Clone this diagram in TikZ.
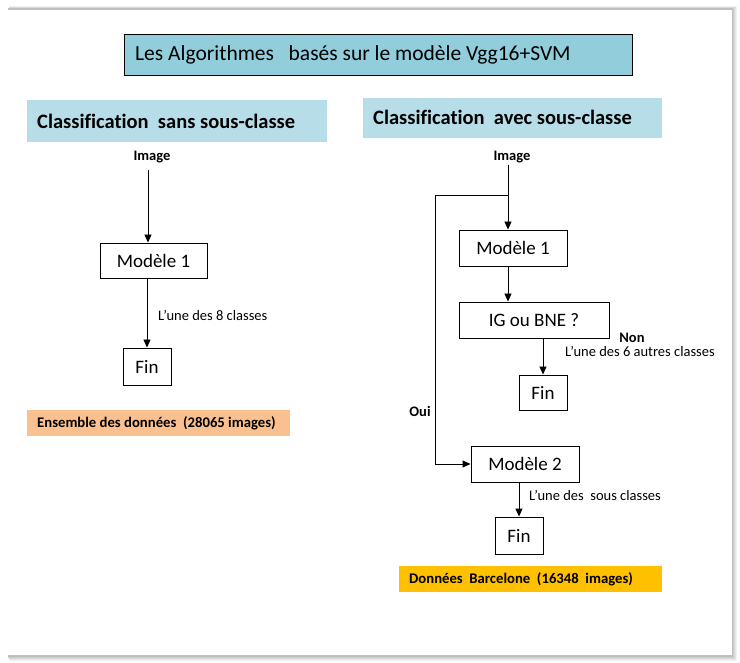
\documentclass[tikz,border=0pt]{standalone}
\usepackage{fontspec}
\setmainfont[Ligatures=NoCommon]{Carlito}
\usetikzlibrary{arrows.meta}
\definecolor{titlefill}{HTML}{92CDDC}
\definecolor{headfill}{HTML}{B7DEE8}
\definecolor{orangefill}{HTML}{FAC090}
\definecolor{yellowfill}{HTML}{FFC000}
\tikzset{
  px/.style={x=1pt,y=-1pt},
  box/.style={draw=black,line width=0.9pt,fill=white,inner sep=0pt},
  boxtext/.style={font=\fontsize{19}{21}\selectfont},
  lbl/.style={font=\fontsize{14.5}{16}\selectfont,inner sep=0pt,anchor=west},
  blbl/.style={font=\bfseries\fontsize{14.5}{16}\selectfont,inner sep=0pt},
  headtext/.style={font=\bfseries\fontsize{20.5}{22}\selectfont,anchor=west,inner sep=0pt},
  datatext/.style={font=\bfseries\fontsize{14.7}{16}\selectfont,anchor=west,inner sep=0pt},
  arr/.style={line width=0.9pt,-{Triangle[length=8pt,width=7pt]}},
  ln/.style={line width=0.9pt},
}
\begin{document}
\begin{tikzpicture}[px]
\useasboundingbox (0,0) rectangle (740,663);
\fill[white] (0,0) rectangle (740,663);
% frame with soft shadow
\foreach \o/\c in {5/95,4/90,3/85,2/80,1/75}{
  \fill[black!\the\numexpr100-\c\relax] (8+\o*0.2,9-\o*0.6) rectangle (732+\o,656+\o);
}
\fill[white] (8,10) rectangle (732,655);
% title
\node[draw=black,line width=0.9pt,fill=titlefill,minimum width=508pt,minimum height=41pt,inner sep=0pt] (title) at (378,54.5) {};
\node[font=\fontsize{21.5}{23}\selectfont,anchor=west,inner sep=0pt] (titlet) at (135,54.5) {Les Algorithmes\ \ \ basés sur le modèle Vgg16+SVM};
% headers
\node[fill=headfill,minimum width=300pt,minimum height=42pt,inner sep=0pt] (h1) at (177,121) {};
\node[headtext] (h1t) at (37,121) {Classification\ \ sans sous-classe};
\node[fill=headfill,minimum width=299pt,minimum height=40pt,inner sep=0pt] (h2) at (512.5,118) {};
\node[headtext] (h2t) at (373,117) {Classification\ \ avec sous-classe};
% left flow
\node[blbl] (img1) at (152,157) {Image};
\node[box,minimum width=107pt,minimum height=35pt,boxtext] (m1a) at (153.5,260.5) {Modèle 1};
\node[box,minimum width=48pt,minimum height=37pt,boxtext] (fin1) at (147,366.5) {Fin};
\coordinate (s1) at (148,170);
\draw[arr] (s1) -- (s1 |- m1a.north);
\draw[arr] (m1a.south -| fin1.north) -- (fin1.north);
\node[lbl] (l1) at (158,315) {L’une des 8 classes};
\node[fill=orangefill,minimum width=263pt,minimum height=26pt,inner sep=0pt] (ens) at (158.5,423) {};
\node[datatext] (enst) at (37,423) {Ensemble des données\ \ (28065 images)};
% right flow
\node[blbl] (img2) at (512,157) {Image};
\node[box,minimum width=108pt,minimum height=36pt,boxtext] (m1b) at (513,248) {Modèle 1};
\node[box,minimum width=150pt,minimum height=36pt,boxtext] (ig) at (534,320) {IG ou BNE ?};
\node[box,minimum width=48pt,minimum height=35pt,boxtext] (fin2) at (543,392.5) {Fin};
\node[box,minimum width=108pt,minimum height=36pt,boxtext] (m2) at (525,464) {Modèle 2};
\node[box,minimum width=48pt,minimum height=37pt,boxtext] (fin3) at (519,535.5) {Fin};
\coordinate (s2) at (508,165);
\coordinate (j) at (508,195);
\coordinate (c1) at (435,195);
\draw[arr] (s2) -- (s2 |- m1b.north);
\draw[ln] (j) -- (c1) -- (c1 |- m2.west);
\draw[arr] (c1 |- m2.west) -- (m2.west);
\draw[arr] (m1b.south -| j) -- (ig.north -| j);
\draw[arr] (ig.south -| fin2.north) -- (fin2.north);
\draw[arr] (m2.south -| fin3.north) -- (fin3.north);
\node[blbl] (non) at (632,338) {Non};
\node[lbl] (l2) at (565,351) {L’une des 6 autres classes};
\node[blbl] (oui) at (420,411) {Oui};
\node[lbl] (l3) at (529,495) {L’une des\ \ sous classes};
\node[fill=yellowfill,minimum width=263pt,minimum height=26pt,inner sep=0pt] (bar) at (530.5,579) {};
\node[datatext] (bart) at (409,579) {Données\ \ Barcelone\ \ (16348\ \ images)};
\end{tikzpicture}
\end{document}
